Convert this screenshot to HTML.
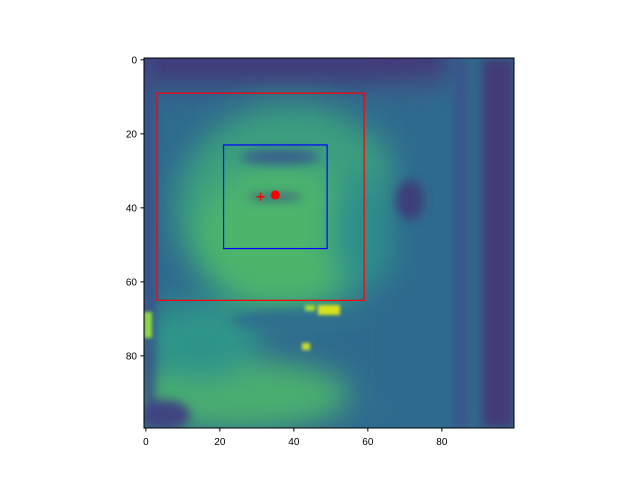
<!DOCTYPE html>
<html><head><meta charset="utf-8"><style>
body{margin:0;background:#fff;width:640px;height:480px;overflow:hidden;font-family:"Liberation Sans",sans-serif}
</style></head><body>
<svg id="chart" width="640" height="480" xmlns="http://www.w3.org/2000/svg">
<defs>
<filter id="bl" x="-50%" y="-50%" width="200%" height="200%"><feGaussianBlur stdDeviation="14"/></filter>
<filter id="bl2" x="-50%" y="-50%" width="200%" height="200%"><feGaussianBlur stdDeviation="5"/></filter>
<filter id="bl3" x="-50%" y="-50%" width="200%" height="200%"><feGaussianBlur stdDeviation="1.5"/></filter>
<clipPath id="cp"><rect x="144" y="58" width="370" height="370"/></clipPath>
</defs>
<g clip-path="url(#cp)">
<rect x="144" y="58" width="370" height="370" fill="#2f6b8e"/>
<g filter="url(#bl)">
<ellipse cx="290" cy="210" rx="115" ry="105" fill="#3b9f7e"/>
<ellipse cx="280" cy="235" rx="80" ry="70" fill="#4cb56c"/>
<ellipse cx="240" cy="395" rx="110" ry="35" fill="#4aae70"/>
<ellipse cx="200" cy="340" rx="60" ry="40" fill="#2f9489"/>
<rect x="390" y="60" width="60" height="370" fill="#2f6b8e"/>
<ellipse cx="360" cy="230" rx="30" ry="60" fill="#2e8f8a"/>
<rect x="120" y="30" width="330" height="55" fill="#423a7a"/>
</g>
<g filter="url(#bl2)">
<rect x="482" y="58" width="32" height="370" fill="#433b78"/>
<rect x="455" y="60" width="12" height="370" fill="#3b528b"/>
<rect x="144" y="58" width="10" height="370" fill="#3a4e88"/>
<ellipse cx="280" cy="157" rx="40" ry="8" fill="#37608c"/>
<ellipse cx="275" cy="197" rx="28" ry="3" fill="#3a4a80"/>
<ellipse cx="410" cy="200" rx="14" ry="20" fill="#3c3e7a"/>
<ellipse cx="165" cy="415" rx="25" ry="15" fill="#3f4582"/>
<ellipse cx="300" cy="320" rx="70" ry="10" fill="#2f6f8e"/>
</g>
<g filter="url(#bl3)">
<rect x="318" y="305" width="22" height="10" fill="#d8e21c"/>
<rect x="305" y="305" width="10" height="6" fill="#a5db36"/>
<rect x="302" y="343" width="8" height="7" fill="#c9df26"/>
<rect x="144" y="312" width="8" height="26" fill="#8fd744"/>
</g>
</g>
<rect x="144" y="58" width="370" height="370" fill="none" stroke="#000" stroke-width="1"/>
<g id="overlay"></g>
<g id="ticks"></g>
</svg>
<script>
const xTicks=[0,20,40,60,80];
const yTicks=[0,20,40,60,80];
const redBox=[3,9,59,65];
const blueBox=[21,23,49,51];
const plusPt=[31,37];
const dotPt=[35,36.5];
const X=v=>144+(v+0.5)*3.7, Y=v=>58+(v+0.5)*3.7;
const NS="http://www.w3.org/2000/svg";
function mk(t,a,p){const e=document.createElementNS(NS,t);for(const k in a)e.setAttribute(k,a[k]);p.appendChild(e);return e;}
const ov=document.getElementById('overlay'), tk=document.getElementById('ticks');
let r=mk('rect',{x:X(redBox[0]),y:Y(redBox[1]),width:X(redBox[2])-X(redBox[0]),height:Y(redBox[3])-Y(redBox[1]),fill:'none',stroke:'#ff0000','stroke-width':1.2},ov);


let b=mk('rect',{x:X(blueBox[0]),y:Y(blueBox[1]),width:X(blueBox[2])-X(blueBox[0]),height:Y(blueBox[3])-Y(blueBox[1]),fill:'none',stroke:'#0000ff','stroke-width':1.2},ov);


let p=mk('path',{d:`M${X(plusPt[0])-4},${Y(plusPt[1])}h8M${X(plusPt[0])},${Y(plusPt[1])-4}v8`,stroke:'#ff0000','stroke-width':1.5},ov);


let d=mk('circle',{cx:X(dotPt[0]),cy:Y(dotPt[1]),r:4.5,fill:'#ff0000'},ov);


xTicks.forEach(v=>{const x=X(v);
 mk('line',{x1:x,y1:428,x2:x,y2:431.5,stroke:'#000'},tk);
 const t=mk('text',{x:x,y:445,'text-anchor':'middle','font-size':10},tk);t.textContent=v;
 
 });
yTicks.forEach(v=>{const y=Y(v);
 mk('line',{x1:140.5,y1:y,x2:144,y2:y,stroke:'#000'},tk);
 const t=mk('text',{x:137,y:y+3.5,'text-anchor':'end','font-size':10},tk);t.textContent=v;
 
 });
</script>
</body></html>
